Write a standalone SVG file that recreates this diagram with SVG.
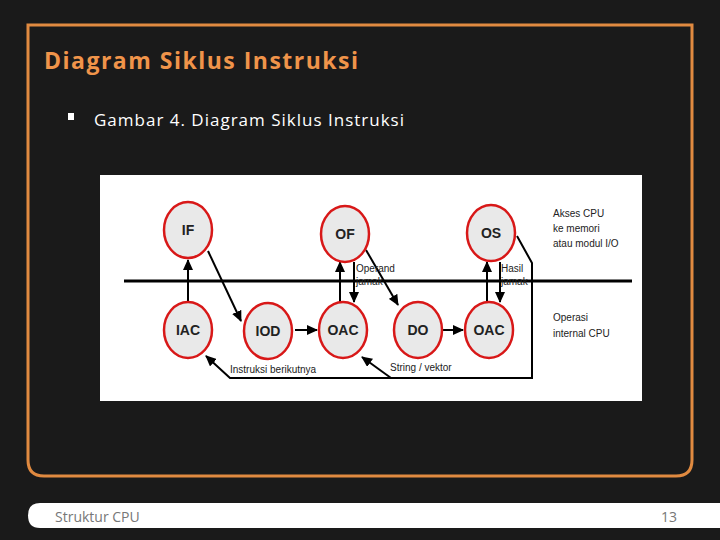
<svg xmlns="http://www.w3.org/2000/svg" width="720" height="540" viewBox="0 0 720 540">
<style>
.n{fill:#e9e9e9;stroke:#d81818;stroke-width:2.5}
.nt{font-family:"Liberation Sans",Arial,sans-serif;font-size:14px;font-weight:bold;fill:#222;text-anchor:middle}
.s{font-family:"Liberation Sans",Arial,sans-serif;font-size:10px;fill:#222}
.c{stroke:#000;stroke-width:2;fill:none}
</style>
<defs><marker id="a" markerWidth="11" markerHeight="10" refX="10" refY="5" orient="auto" markerUnits="userSpaceOnUse" viewBox="0 0 11 10"><path d="M0,0L11,5L0,10z" fill="#000"/></marker></defs>
<rect width="720" height="540" fill="#1a1a1a"/>
<path d="M28,25H692V460Q692,476 676,476H44Q28,476 28,460Z" fill="none" stroke="#e08a40" stroke-width="3"/>
<text x="44" y="69" font-family="Open Sans,Liberation Sans,sans-serif" font-size="23" font-weight="bold" fill="#f0944a" textLength="314">Diagram Siklus Instruksi</text>
<rect x="68" y="113" width="6" height="7" fill="#fff"/>
<text x="94" y="126" font-family="Open Sans,Liberation Sans,sans-serif" font-size="17" fill="#fff" textLength="310">Gambar 4. Diagram Siklus Instruksi</text>
<rect x="100" y="175" width="542" height="226" fill="#fff"/>
<line x1="124" y1="281" x2="632" y2="281" stroke="#000" stroke-width="3"/>
<g id="conn">
<line class="c" x1="188" y1="302" x2="188" y2="260" marker-end="url(#a)"/>
<line class="c" x1="208" y1="251" x2="241" y2="321" marker-end="url(#a)"/>
<line class="c" x1="295" y1="330" x2="317" y2="330" marker-end="url(#a)"/>
<line class="c" x1="340" y1="302" x2="340" y2="262" marker-end="url(#a)"/>
<line class="c" x1="354" y1="262" x2="354" y2="302" marker-end="url(#a)"/>
<line class="c" x1="366" y1="250" x2="398" y2="305" marker-end="url(#a)"/>
<line class="c" x1="443" y1="330" x2="463" y2="330" marker-end="url(#a)"/>
<line class="c" x1="487" y1="302" x2="487" y2="262" marker-end="url(#a)"/>
<line class="c" x1="500" y1="262" x2="500" y2="302" marker-end="url(#a)"/>
<polyline class="c" points="517,236 532,263 532,378 230,378 206,356" marker-end="url(#a)"/>
<line class="c" x1="391" y1="378" x2="362" y2="357" marker-end="url(#a)"/>
</g>
<g id="IF"><ellipse class="n" cx="188" cy="230" rx="24" ry="28"/><text class="nt" x="188" y="235">IF</text></g>
<g id="OF"><ellipse class="n" cx="345" cy="234" rx="24" ry="28"/><text class="nt" x="345" y="239">OF</text></g>
<g id="OS"><ellipse class="n" cx="491" cy="233" rx="24" ry="28"/><text class="nt" x="491" y="238">OS</text></g>
<g id="IAC"><ellipse class="n" cx="188" cy="330" rx="24" ry="28"/><text class="nt" x="188" y="335">IAC</text></g>
<g id="IOD"><ellipse class="n" cx="268" cy="331" rx="24" ry="28"/><text class="nt" x="268" y="336">IOD</text></g>
<g id="OAC1"><ellipse class="n" cx="343" cy="330" rx="24" ry="28"/><text class="nt" x="343" y="335">OAC</text></g>
<g id="DO"><ellipse class="n" cx="418" cy="330" rx="24" ry="28"/><text class="nt" x="418" y="335">DO</text></g>
<g id="OAC2"><ellipse class="n" cx="489" cy="330" rx="24" ry="28"/><text class="nt" x="489" y="335">OAC</text></g>
<text class="s" x="356" y="272">Operand</text>
<text class="s" x="356" y="285">jamak</text>
<text class="s" x="501" y="272">Hasil</text>
<text class="s" x="501" y="285">jamak</text>
<text class="s" x="230" y="373">Instruksi berikutnya</text>
<text class="s" x="390" y="371">String / vektor</text>
<text class="s" x="553" y="217">Akses CPU</text>
<text class="s" x="553" y="232">ke memori</text>
<text class="s" x="553" y="247">atau modul I/O</text>
<text class="s" x="553" y="321">Operasi</text>
<text class="s" x="553" y="337">internal CPU</text>
<path d="M40,503H720V528H40Q28,528 28,515.5Q28,503 40,503Z" fill="#fff"/>
<text x="55" y="522" font-family="Open Sans,Liberation Sans,sans-serif" font-size="14" fill="#777">Struktur CPU</text>
<text x="677" y="522" font-family="Open Sans,Liberation Sans,sans-serif" font-size="14" fill="#777" text-anchor="end">13</text>
</svg>
